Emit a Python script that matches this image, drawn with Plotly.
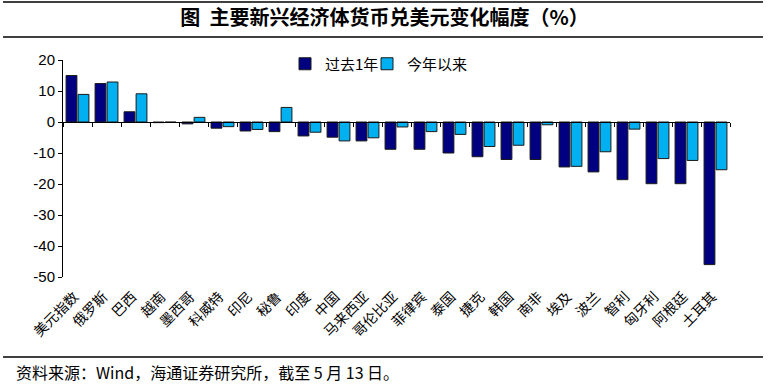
import plotly.graph_objects as go

categories = ["美元指数", "俄罗斯", "巴西", "越南", "墨西哥", "科威特", "印尼", "秘鲁", "印度", "中国",
              "马来西亚", "哥伦比亚", "菲律宾", "泰国", "捷克", "韩国", "南非", "埃及", "波兰", "智利",
              "匈牙利", "阿根廷", "土耳其"]
past_year = [15.0, 12.4, 3.3, -0.2, -0.6, -2.0, -2.9, -3.1, -4.5, -4.9,
             -6.1, -8.8, -8.8, -10.0, -11.2, -12.1, -12.1, -14.5, -16.1, -18.6,
             -19.9, -19.9, -46.0]
ytd = [8.9, 12.9, 9.1, -0.1, 1.5, -1.5, -2.4, 4.7, -3.3, -6.1,
       -5.1, -1.6, -3.1, -4.0, -7.9, -7.5, -0.9, -14.3, -9.6, -2.3,
       -11.8, -12.4, -15.4]
series_names = ["过去1年", "今年以来"]
y_ticks = [20, 10, 0, -10, -20, -30, -40, -50]
y_tick_labels = [str(v) for v in y_ticks]

CJK = "Noto Sans CJK SC"
NUM = "Liberation Sans, Arial"

fig = go.Figure()
fig.add_trace(go.Bar(x=categories, y=past_year, name=series_names[0], legend="legend",
                     marker=dict(color="#000080", line=dict(color="#1a1a1a", width=1))))
fig.add_trace(go.Bar(x=categories, y=ytd, name=series_names[1], legend="legend2",
                     marker=dict(color="#00B0F0", line=dict(color="#1a1a1a", width=1))))
# helper trace for the zero-line category axis
fig.add_trace(go.Scatter(x=categories, y=[None] * len(categories), xaxis="x2",
                         showlegend=False, hoverinfo="skip", mode="lines"))

ymin, ymax = -50, 20
L, R, T, B = 63, 39, 60, 113
W, H = 769, 390
pw, ph = W - L - R, H - T - B

def px_x(p):
    return (p - L) / pw

def px_y(p):
    return (H - B - p) / ph

legend_common = dict(orientation="h", xanchor="left", yanchor="middle",
                     font=dict(family=CJK, size=15, color="black"),
                     bgcolor="rgba(0,0,0,0)", itemwidth=30)

fig.update_layout(
    width=W, height=H,
    margin=dict(l=L, r=R, t=T, b=B, autoexpand=False),
    paper_bgcolor="white", plot_bgcolor="white",
    barmode="group", bargap=0.17, bargroupgap=0.1,
    showlegend=True,
    legend=dict(x=px_x(285), y=px_y(64), **legend_common),
    legend2=dict(x=px_x(367), y=px_y(64), **legend_common),
    xaxis=dict(type="category", range=[-0.5, len(categories) - 0.5],
               showline=False, ticks="", showgrid=False, zeroline=False,
               automargin=False, tickangle=-45, ticklabelshift=-3, ticklabelstandoff=8,
               tickfont=dict(family=CJK, size=14, color="black")),
    xaxis2=dict(type="category", overlaying="x", matches="x", anchor="free",
                position=(0 - ymin) / (ymax - ymin), side="bottom", automargin=False,
                showline=True, linecolor="black", linewidth=1,
                ticks="outside", ticklen=4, tickcolor="black", tickson="boundaries",
                showticklabels=False, showgrid=False, zeroline=False),
    yaxis=dict(range=[ymin, ymax], tickvals=y_ticks, ticktext=y_tick_labels,
               showline=True, linecolor="black", automargin=False,
               linewidth=1, ticks="outside", ticklen=4, tickcolor="black",
               showgrid=False, zeroline=False,
               tickfont=dict(family=NUM, size=15, color="black")),
    title=dict(text="<b>图  主要新兴经济体货币兑美元变化幅度（%）</b>", x=0.5, xanchor="center",
               y=1 - 18 / H, yanchor="middle", automargin=False,
               font=dict(family=CJK, size=20, color="black")),
)

for py in (2, 37, 357):
    fig.add_shape(type="line", xref="paper", yref="paper",
                  x0=px_x(3), x1=px_x(763), y0=px_y(py), y1=px_y(py),
                  line=dict(color="black", width=1.5))

fig.add_annotation(text="资料来源：Wind，海通证券研究所，截至 5 月 13 日。",
                   xref="paper", yref="paper", x=px_x(14), y=px_y(372),
                   xanchor="left", yanchor="middle", showarrow=False,
                   font=dict(family=CJK, size=16, color="black"))

fig.write_html("out.html", config={"displayModeBar": False},
               post_script="document.body.style.margin='0';")
